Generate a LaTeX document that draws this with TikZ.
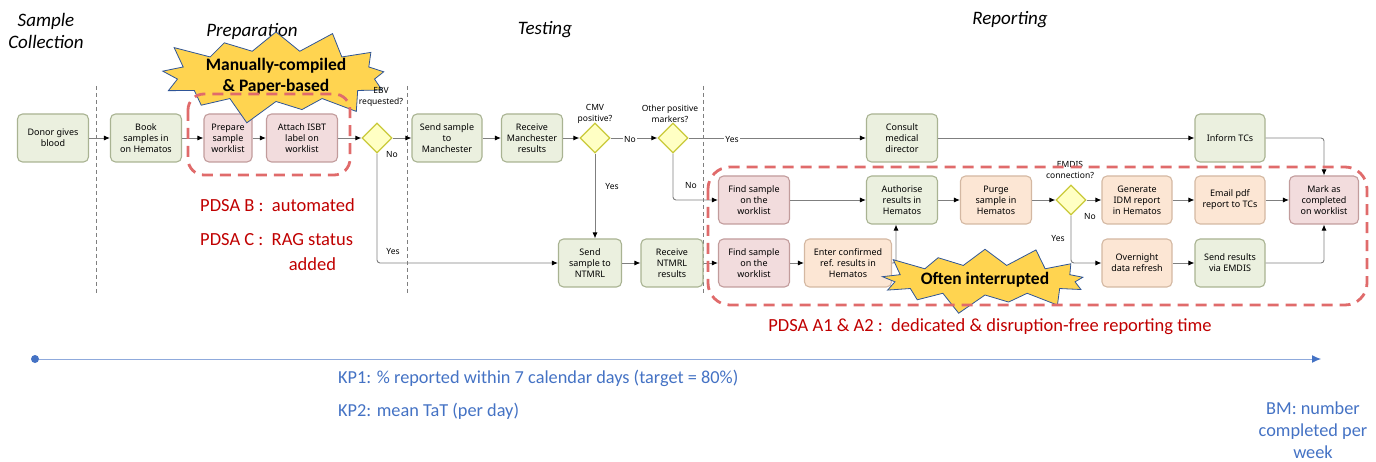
\documentclass[tikz,border=0pt]{standalone}
\usepackage{fontspec}
\setmainfont{Carlito}
\newfontfamily\boxfont{Noto Sans}
\usetikzlibrary{arrows.meta,shapes.geometric,shapes.symbols}

\definecolor{gfill}{HTML}{EBF0DF}\definecolor{gdraw}{HTML}{A9B392}
\definecolor{pfill}{HTML}{F2DCDD}\definecolor{pdraw}{HTML}{C29C9C}
\definecolor{ofill}{HTML}{FCE6D4}\definecolor{odraw}{HTML}{D4B8A2}
\definecolor{dfill}{HTML}{FFFFC4}\definecolor{ddraw}{HTML}{C9C93A}
\definecolor{conncol}{HTML}{7F7F7F}
\definecolor{pdsared}{HTML}{E06B6B}
\definecolor{redtext}{HTML}{C00000}
\definecolor{bluetext}{HTML}{4472C4}
\definecolor{bline}{HTML}{8FAADC}
\definecolor{starfill}{HTML}{FFD450}
\definecolor{stardraw}{HTML}{2F5597}

\begin{document}
\begin{tikzpicture}[x=1pt,y=-1pt,
  box/.style={draw, rounded corners=5pt, line width=1.1pt, minimum height=48pt,
    minimum width=#1, inner sep=1pt, align=center,
    font=\boxfont\fontsize{9}{11}\selectfont},
  gbox/.style={box=#1, fill=gfill, draw=gdraw},
  pbox/.style={box=#1, fill=pfill, draw=pdraw},
  obox/.style={box=#1, fill=ofill, draw=odraw},
  dec/.style={diamond, draw=ddraw, fill=dfill, line width=1.2pt,
    minimum width=30pt, minimum height=30pt, inner sep=0pt},
  lbl/.style={font=\boxfont\fontsize{8.5}{10.5}\selectfont, align=center, inner sep=1pt},
  conn/.style={draw=conncol, line width=0.9pt, rounded corners=3pt,
    -{Latex[length=6pt,width=5pt,color=black]}},
  sep/.style={draw=conncol, line width=0.7pt, dash pattern=on 4pt off 3pt},
  ttl/.style={font=\fontsize{19}{22}\selectfont\itshape, align=center},
  pdsabox/.style={draw=pdsared, line width=2.8pt, dash pattern=on 11pt off 7pt},
  burst/.style={starburst, starburst points=13, fill=starfill, draw=stardraw,
    line width=0.8pt, align=center, inner sep=0pt,
    font=\fontsize{17.5}{21}\selectfont\bfseries},
  redt/.style={text=redtext, font=\fontsize{18.5}{21}\selectfont, inner sep=0pt},
  bluet/.style={text=bluetext, font=\fontsize{18.3}{22}\selectfont, inner sep=0pt}
]
\useasboundingbox (0,0) rectangle (1376,462);

% separators
\foreach \x in {96,407,703} \draw[sep] (\x,86) -- (\x,295);

% titles
\node[ttl] (tsc) at (46,31) {Sample\\Collection};
\node[ttl] (tprep) at (252,31) {Preparation};
\node[ttl] (ttest) at (545,30) {Testing};
\node[ttl] (trep) at (1010,20) {Reporting};

% boxes
\node[gbox=71pt] (donor) at (53,138) {Donor gives\\blood};
\node[gbox=71pt] (book) at (146,138) {Book\\samples in\\on Hematos};
\node[pbox=48pt] (prep) at (228,138) {Prepare\\sample\\worklist};
\node[pbox=71pt] (attach) at (302,138) {Attach ISBT\\label on\\worklist};
\node[dec] (ebv) at (377,138) {};
\node[gbox=70pt] (sendm) at (447,138) {Send sample\\to\\Manchester};
\node[gbox=61pt] (recm) at (532,138) {Receive\\Manchester\\results};
\node[dec] (cmv) at (595,138) {};
\node[dec] (other) at (673,138) {};
\node[gbox=71pt] (consult) at (902,138) {Consult\\medical\\director};
\node[gbox=70pt] (inform) at (1230,138) {Inform TCs};

\node[gbox=63pt] (sendn) at (590,263) {Send\\sample to\\NTMRL};
\node[gbox=62pt] (recn) at (672,263) {Receive\\NTMRL\\results};

\node[pbox=71pt] (find1) at (754,200) {Find sample\\on the\\worklist};
\node[gbox=71pt] (auth) at (902,200) {Authorise\\results in\\Hematos};
\node[obox=71pt] (purge) at (996,200) {Purge\\sample in\\Hematos};
\node[dec] (emdis) at (1071,200) {};
\node[obox=70pt] (gen) at (1137,200) {Generate\\IDM report\\in Hematos};
\node[obox=70pt] (email) at (1230,200) {Email pdf\\report to TCs};
\node[pbox=69pt] (mark) at (1324,200) {Mark as\\completed\\on worklist};

\node[pbox=71pt] (find2) at (754,263) {Find sample\\on the\\worklist};
\node[obox=87pt] (enter) at (848,263) {Enter confirmed\\ref. results in\\Hematos};
\node[obox=70pt] (night) at (1137,263) {Overnight\\data refresh};
\node[gbox=70pt] (sende) at (1230,263) {Send results\\via EMDIS};

% connectors
\draw[conn] (donor) -- (book);
\draw[conn] (book) -- (prep);
\draw[conn] (prep) -- (attach);
\draw[conn] (attach) -- (ebv);
\draw[conn] (ebv) -- (sendm);
\draw[conn] (sendm) -- (recm);
\draw[conn] (recm) -- (cmv);
\draw[conn] (cmv) -- (other);
\draw[conn] (other) -- (consult);
\draw[conn] (consult) -- (inform);
\draw[conn] (inform.east) -| (mark.north);
\draw[conn] (cmv.south) -- (cmv.south |- sendn.north);
\draw[conn] (ebv.south) |- (sendn.west);
\draw[conn] (other.south) |- (find1.west);
\draw[conn] (sendn) -- (recn);
\draw[conn] (recn) -- (find2);
\draw[conn] (find1) -- (auth);
\draw[conn] (auth) -- (purge);
\draw[conn] (purge) -- (emdis);
\draw[conn] (emdis) -- (gen);
\draw[conn] (gen) -- (email);
\draw[conn] (email) -- (mark);
\draw[conn] (find2) -- (enter);
\draw[conn] (enter.east) -| ([xshift=-6pt]auth.south);
\draw[conn] (emdis.south) |- (night.west);
\draw[conn] (night) -- (sende);
\draw[conn] (sende.east) -| (mark.south);

% connector labels
\node[lbl] (nebv) at (392,155) {No};
\node[lbl] (yebv) at (393,252) {Yes};
\node[lbl, fill=white] (ncmv) at (630,140) {No};
\node[lbl] (ycmv) at (612,187) {Yes};
\node[lbl] (nother) at (691,186) {No};
\node[lbl, fill=white] (yother) at (732,140) {Yes};
\node[lbl] (nemdis) at (1090,217) {No};
\node[lbl] (yemdis) at (1058,239) {Yes};

% starbursts
\node[burst, minimum width=220pt, minimum height=90pt, starburst point height=26pt] (s1) at (276,76) {Manually-compiled\\\& Paper-based};
\node[burst, minimum width=176pt, minimum height=74pt, starburst point height=22pt] (s2) at (985,280) {Often interrupted};

% diamond labels
\node[lbl] (lebv) at (381,97) {EBV\\requested?};
\node[lbl] (lcmv) at (595,114) {CMV\\positive?};
\node[lbl] (lother) at (670,114) {Other positive\\markers?};
\node[lbl] (lemdis) at (1070,170) {EMDIS\\connection?};

% PDSA dashed outlines
\draw[pdsabox, rounded corners=16pt] (188,94) rectangle (350,175);
\draw[pdsabox, rounded corners=22pt] (708,167) rectangle (1367,305);

% red texts
\node[redt, anchor=west] (pb) at (200,205) {PDSA B :~~automated};
\node[redt, anchor=north west] (pc) at (200,231) {PDSA C :~~\begin{tabular}[t]{@{}c@{}}RAG status\\[4pt]added\end{tabular}};
\node[redt] (pa) at (990,327) {PDSA A1 \& A2 :~~dedicated \& disruption-free reporting time};

% timeline
\node[circle, fill=bluetext, inner sep=0pt, minimum size=8pt] (tdot) at (35,359) {};
\coordinate (tend) at (1321,359);
\draw[bline, line width=1pt, -{Latex[length=9pt,width=8pt,color=bluetext]}] (tdot) -- (tend);
\node[bluet, anchor=west] (kp1) at (338,378) {KP1: \% reported within 7 calendar days (target = 80\%)};
\node[bluet, anchor=west] (kp2) at (338,411) {KP2: mean TaT (per day)};
\node[bluet, align=center] (bm) at (1313,430) {BM: number\\completed per\\week};
\end{tikzpicture}
\end{document}
